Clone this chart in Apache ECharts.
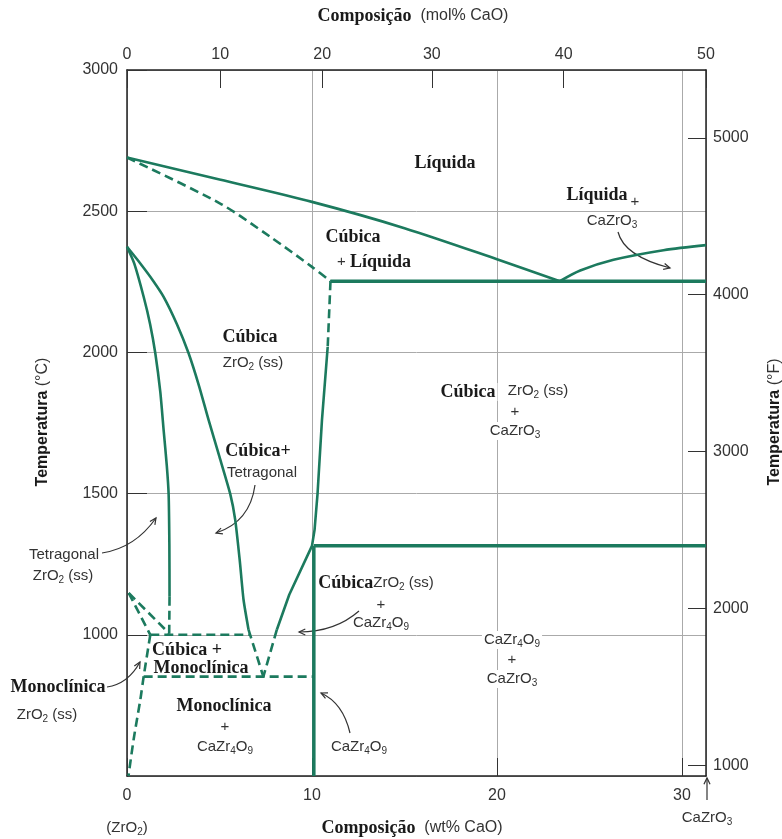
<!DOCTYPE html>
<html><head><meta charset="utf-8">
<script src="https://cdn.jsdelivr.net/npm/echarts@6/dist/echarts.min.js"></script>
<style>html,body{margin:0;padding:0;background:#fff}#c{width:782px;height:839px}</style>
</head><body><div id="c"></div>
<script>
// ---------- data: x = wt% CaO, y = temperature °C ----------
const wtTickStep = 10;
const tempTicksF = [1000, 2000, 3000, 4000, 5000];
const molTickLabels = ['0', '10', '20', '30', '40', '50'];
const molTickWt = [0, 5.04, 10.55, 16.48, 23.61, 31.3];

const liquidusLeft = [[0,2690],[5,2612],[10,2533],[15,2440],[20,2330],[23.4,2252]];
const liquidusRight = [[23.4,2252],[24.5,2290],[26.3,2328],[29.0,2362],[31.3,2380]];
const eutecticLine = [[11.0,2252],[31.3,2252]];
const solidusDashed = [[0,2690],[5.04,2527],[7.75,2409],[10.0,2303],[11.0,2252]];
const cubicSolvusDashed = [[11.0,2252],[10.85,2020]];
const cubicSolvus = [[10.85,2020],[10.54,1761],[10.3,1499],[10.14,1372],[10.0,1315],[8.77,1142],[8.1,1018]];
const cubicSolvusLowDashed = [[8.1,1018],[7.37,852]];
const tetragonalSolvus = [[0,2374],[0.39,2315],[0.9,2197],[1.25,2100],[1.53,1997],[1.8,1860],[1.98,1725],[2.15,1600],[2.25,1499],[2.29,1320],[2.3,1135]];
const tetragonalSolvusDashed = [[2.3,1135],[2.28,1000]];
const cubicBoundary = [[0,2374],[0.72,2315],[1.4,2255],[1.98,2197],[2.7,2100],[3.33,1997],[3.9,1880],[4.41,1761],[5.0,1630],[5.58,1499],[5.85,1407],[6.1,1260],[6.3,1124],[6.57,1018]];
const cubicBoundaryDashed = [[6.57,1018],[7.37,852]];
const monoTetraDashed1 = [[0.09,1148],[1.26,1000]];
const monoTetraDashed2 = [[0.09,1148],[2.28,1005]];
const isotherm1000Dashed = [[1.26,1000],[6.6,1000]];
const monoclinicSolvusDashed = [[1.26,1000],[0.9,852],[0.72,770],[0.36,630],[0.08,500]];
const eutectoidDashed = [[0.9,852],[10.1,852]];
const caZr4O9Line = [[10.1,500],[10.1,1315]];
const peritectoidLine = [[10.1,1315],[31.3,1315]];

// ---------- styling ----------
const GREEN = '#1c7a5e';
const SANS = 'Liberation Sans, Arial, sans-serif';
const SERIF = 'Liberation Serif, Times New Roman, serif';
const RICH = {
  r: { fontFamily: SANS, fontSize: 15, fill: '#333', lineHeight: 18 },
  s: { fontFamily: SANS, fontSize: 10, fill: '#333', lineHeight: 8, verticalAlign: 'bottom' },
  b: { fontFamily: SERIF, fontWeight: 'bold', fontSize: 18, fill: '#1a1a1a', lineHeight: 18 },
  tb: { fontFamily: SERIF, fontWeight: 'bold', fontSize: 18, fill: '#1a1a1a', lineHeight: 20 },
  tr: { fontFamily: SANS, fontSize: 16, fill: '#333', lineHeight: 20 },
  vb: { fontFamily: SANS, fontWeight: 'bold', fontSize: 16, fill: '#1a1a1a', lineHeight: 20 },
  vr: { fontFamily: SANS, fontSize: 16, fill: '#333', lineHeight: 20 }
};

function line(data, o) {
  o = o || {};
  return {
    type: 'line', data: data, xAxisIndex: 0, yAxisIndex: 0,
    showSymbol: false, symbol: 'none', smooth: o.smooth || 0, silent: true,
    animation: false, z: 3,
    lineStyle: { color: GREEN, width: o.w || 2.6, type: o.dash ? [9, 5] : 'solid' }
  };
}
function txt(x, y, text, extra) {
  const st = Object.assign({
    text: text, rich: RICH, align: 'center', verticalAlign: 'middle',
    textAlign: 'center', textVerticalAlign: 'middle', fill: '#333',
    fontSize: 15, fontFamily: SANS
  }, extra || {});
  return { type: 'text', x: x, y: y, z: 1, silent: true, style: st };
}
function arrow(x1, y1, cx, cy, x2, y2) {
  const ang = Math.atan2(y2 - cy, x2 - cx);
  const L = 7, a = 0.45;
  return [
    { type: 'bezierCurve', z: 1, silent: true, shape: { x1: x1, y1: y1, x2: x2, y2: y2, cpx1: cx, cpy1: cy },
      style: { stroke: '#333', lineWidth: 1.2, fill: 'none' } },
    { type: 'polyline', z: 1, silent: true,
      shape: { points: [[x2 - L * Math.cos(ang - a), y2 - L * Math.sin(ang - a)], [x2, y2],
                        [x2 - L * Math.cos(ang + a), y2 - L * Math.sin(ang + a)]] },
      style: { stroke: '#333', lineWidth: 1.2, fill: 'none' } }
  ];
}
const WB = { backgroundColor: '#fff', padding: [0, 2] };

const elements = [
  txt(413, 16, '{tb|Composição}{tr|  (mol% CaO)}'),
  txt(412, 828, '{tb|Composição}{tr|  (wt% CaO)}'),
  Object.assign(txt(43, 422, '{vb|Temperatura}{vr| (°C)}'), { rotation: Math.PI / 2 }),
  Object.assign(txt(775, 422, '{vb|Temperatura}{vr| (°F)}'), { rotation: Math.PI / 2 }),
  txt(127, 828, '{r|(ZrO}{s|2}{r|)}'),
  txt(707, 818, '{r|CaZrO}{s|3}'),

  txt(445, 163, '{b|Líquida}', WB),
  txt(597, 195, '{b|Líquida}', WB),
  txt(635, 202, '{r|+}'),
  txt(612, 221, '{r|CaZrO}{s|3}', WB),
  txt(353, 237, '{b|Cúbica}', WB),
  txt(374, 262, '{r|+ }{b|Líquida}', WB),
  txt(250, 337, '{b|Cúbica}', WB),
  txt(253, 363, '{r|ZrO}{s|2}{r| (ss)}', WB),
  txt(468, 392, '{b|Cúbica}', WB),
  txt(538, 391, '{r|ZrO}{s|2}{r| (ss)}', WB),
  txt(515, 412, '{r|+}', WB),
  txt(515, 431, '{r|CaZrO}{s|3}', WB),
  txt(258, 451, '{b|Cúbica+}'),
  txt(262, 473, '{r|Tetragonal}'),
  txt(64, 555, '{r|Tetragonal}'),
  txt(63, 576, '{r|ZrO}{s|2}{r| (ss)}'),
  txt(376, 583, '{b|Cúbica}{r|ZrO}{s|2}{r| (ss)}'),
  txt(381, 605, '{r|+}'),
  txt(381, 623, '{r|CaZr}{s|4}{r|O}{s|9}'),
  txt(187, 650, '{b|Cúbica +}'),
  txt(201, 668, '{b|Monoclínica}'),
  txt(58, 687, '{b|Monoclínica}'),
  txt(47, 715, '{r|ZrO}{s|2}{r| (ss)}'),
  txt(224, 706, '{b|Monoclínica}'),
  txt(225, 727, '{r|+}'),
  txt(225, 747, '{r|CaZr}{s|4}{r|O}{s|9}'),
  txt(359, 747, '{r|CaZr}{s|4}{r|O}{s|9}'),
  txt(512, 640, '{r|CaZr}{s|4}{r|O}{s|9}', WB),
  txt(512, 660, '{r|+}', WB),
  txt(512, 679, '{r|CaZrO}{s|3}', WB)
].concat(
  arrow(618, 232, 624, 256, 670, 268),
  arrow(255, 485, 250, 522, 216, 533),
  arrow(102, 553, 135, 548, 156, 518),
  arrow(359, 611, 335, 632, 299, 632),
  arrow(350, 733, 343, 703, 321, 693),
  arrow(107, 687, 128, 684, 140, 662),
  arrow(707, 800, 707, 790, 707, 778)
);

function molLabel(v) {
  let best = 0;
  for (let i = 0; i < molTickWt.length; i++) {
    if (Math.abs(molTickWt[i] - v) < Math.abs(molTickWt[best] - v)) best = i;
  }
  return molTickLabels[best];
}
const plain = function (v) { return String(Math.round(v)); };

const axisLineStyle = { color: '#222', width: 1.5 };
const labelStyle = { fontFamily: SANS, fontSize: 16, color: '#333' };

const option = {
  animation: false,
  backgroundColor: '#fff',
  grid: { left: 127, right: 76, top: 70, bottom: 63, containLabel: false },
  xAxis: [
    { type: 'value', position: 'bottom', min: 0, max: 31.3, interval: wtTickStep,
      axisLine: { show: true, onZero: false, lineStyle: axisLineStyle },
      axisTick: { show: true, inside: true, length: 18, lineStyle: { color: '#333' } },
      axisLabel: Object.assign({ margin: 12, showMaxLabel: false, formatter: plain }, labelStyle),
      splitLine: { show: true, lineStyle: { color: '#aaa', width: 1 } } },
    { type: 'value', position: 'top', min: 0, max: 31.3,
      axisLine: { show: true, onZero: false, lineStyle: axisLineStyle },
      axisTick: { show: true, inside: true, length: 18, customValues: molTickWt, lineStyle: { color: '#333' } },
      axisLabel: Object.assign({ margin: 7, customValues: molTickWt, formatter: molLabel }, labelStyle),
      splitLine: { show: false } }
  ],
  yAxis: [
    { type: 'value', position: 'left', min: 500, max: 3000, interval: 500,
      axisLine: { show: true, onZero: false, lineStyle: axisLineStyle },
      axisTick: { show: true, inside: true, length: 20, lineStyle: { color: '#333' } },
      axisLabel: Object.assign({ margin: 9, showMinLabel: false, formatter: plain }, labelStyle),
      splitLine: { show: true, lineStyle: { color: '#aaa', width: 1 } } },
    { type: 'value', position: 'right', min: 932, max: 5432,
      axisLine: { show: true, onZero: false, lineStyle: axisLineStyle },
      axisTick: { show: true, inside: true, length: 18, customValues: tempTicksF, lineStyle: { color: '#333' } },
      axisLabel: Object.assign({ margin: 7, customValues: tempTicksF, formatter: plain }, labelStyle),
      splitLine: { show: false } }
  ],
  series: [
    line(liquidusLeft, { smooth: 0.3 }),
    line(liquidusRight, { smooth: 0.3 }),
    line(eutecticLine, { w: 3.5 }),
    line(solidusDashed, { dash: true, smooth: 0.3 }),
    line(cubicSolvusDashed, { dash: true }),
    line(cubicSolvus, {}),
    line(cubicSolvusLowDashed, { dash: true }),
    line(tetragonalSolvus, { smooth: 0.2 }),
    line(tetragonalSolvusDashed, { dash: true }),
    line(cubicBoundary, { smooth: 0.2 }),
    line(cubicBoundaryDashed, { dash: true }),
    line(monoTetraDashed1, { dash: true }),
    line(monoTetraDashed2, { dash: true }),
    line(isotherm1000Dashed, { dash: true }),
    line(monoclinicSolvusDashed, { dash: true, smooth: 0.3 }),
    line(eutectoidDashed, { dash: true }),
    line(caZr4O9Line, { w: 3.5 }),
    line(peritectoidLine, { w: 3.5 })
  ],
  graphic: { elements: elements }
};

const chart = echarts.init(document.getElementById('c'), null, { renderer: 'canvas' });
chart.setOption(option);
</script>
</body></html>
